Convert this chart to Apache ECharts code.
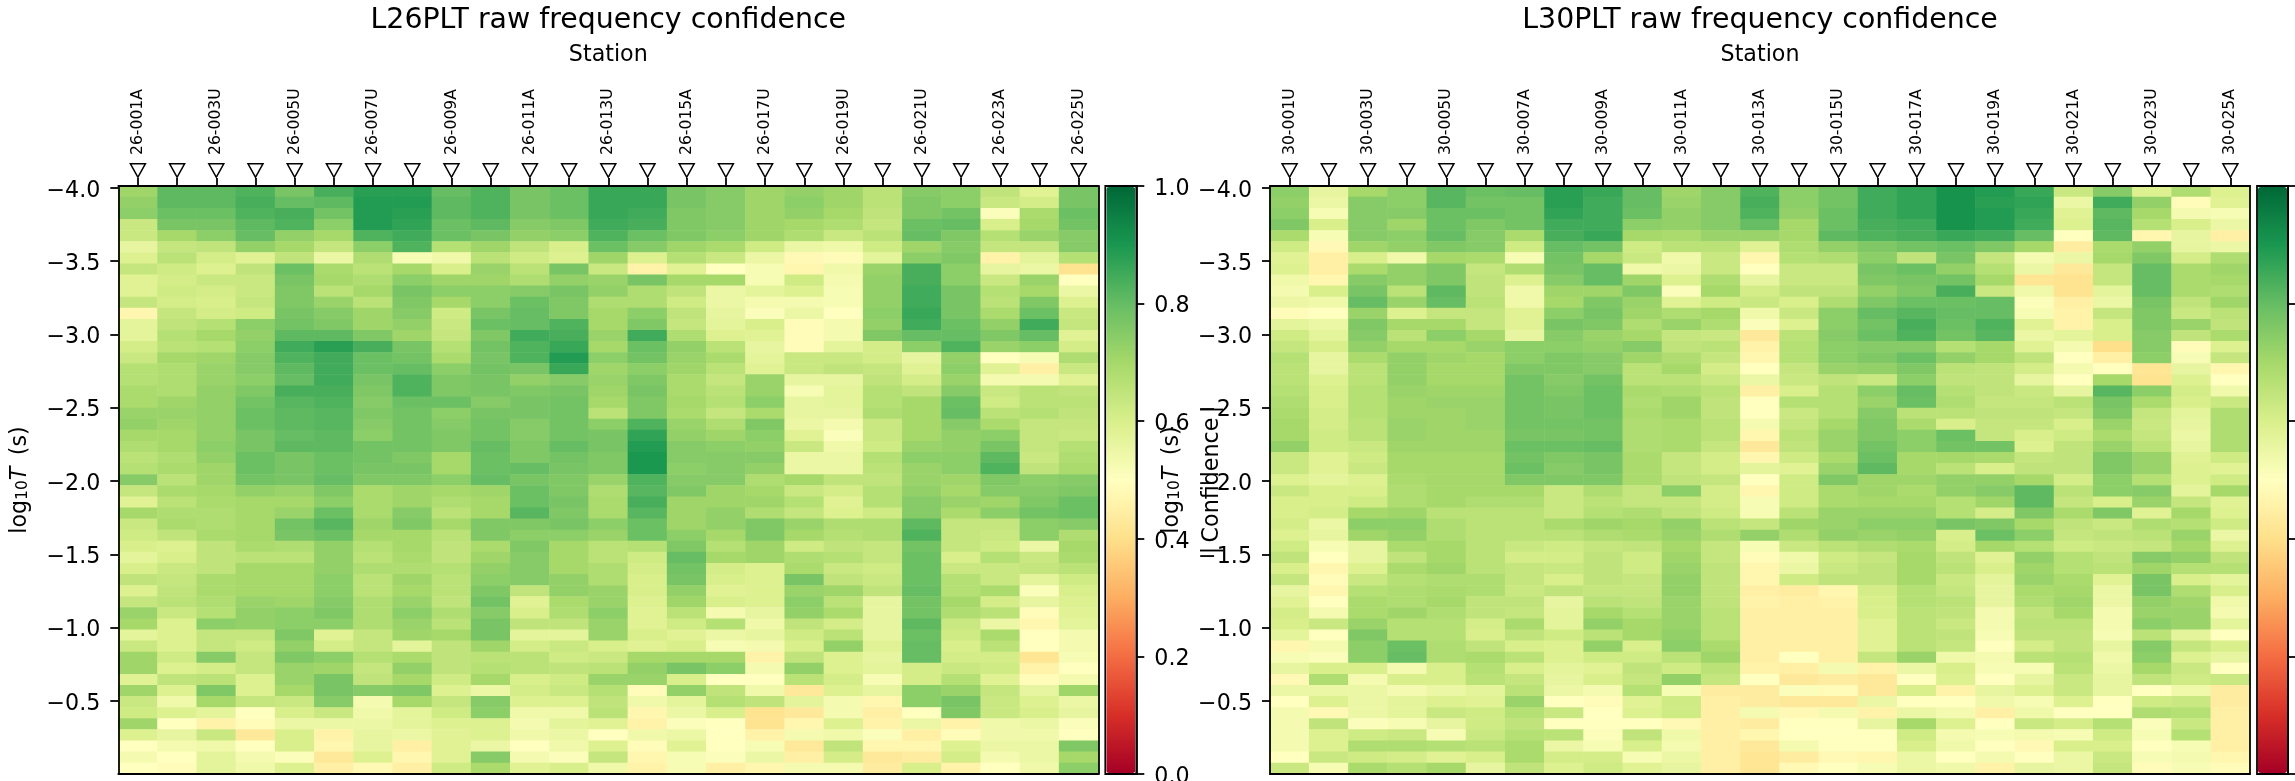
<!DOCTYPE html>
<html><head><meta charset="utf-8">
<style>html,body{margin:0;padding:0;background:#fff;overflow:hidden}#c{width:2295px;height:781px}</style>
<script src="https://cdn.jsdelivr.net/npm/echarts@6/dist/echarts.min.js"></script>
</head><body><div id="c"></div>
<script>
const stations26 = ['26-001A','26-002','26-003U','26-004','26-005U','26-006','26-007U','26-008','26-009A','26-010','26-011A','26-012','26-013U','26-014','26-015A','26-016','26-017U','26-018','26-019U','26-020','26-021U','26-022','26-023A','26-024','26-025U'];
const stations30 = ['30-001U','30-002','30-003U','30-004','30-005U','30-006','30-007A','30-008','30-009A','30-010','30-011A','30-012','30-013A','30-014','30-015U','30-016','30-017A','30-018','30-019A','30-020','30-021A','30-022','30-023U','30-024','30-025A'];
const periodTicks = [-4,-3.5,-3,-2.5,-2,-1.5,-1,-0.5];
const confidenceTicks = [0,0.2,0.4,0.6,0.8,1];
const palette = ['#a50026','#d73027','#f46d43','#fdae61','#fee08b','#ffffbf','#d9ef8b','#a6d96a','#66bd63','#1a9850','#006837'];
// confidence x100, one row per period band (top to bottom), one column per station
const conf26 = [
[71,81,81,83,77,84,88,88,80,83,77,79,86,86,77,75,71,73,71,66,75,74,65,58,77],
[73,81,81,84,80,81,89,89,81,83,77,79,86,86,77,75,71,74,71,66,76,74,63,61,77],
[74,79,79,83,84,78,89,88,81,83,77,79,86,85,76,75,71,73,70,65,76,78,51,69,79],
[63,77,77,81,83,74,89,87,79,81,75,76,85,84,76,75,71,70,68,64,79,80,60,70,78],
[63,70,74,80,73,70,83,85,79,77,73,74,83,79,76,74,71,68,63,66,80,76,67,72,75],
[56,64,65,73,70,64,74,83,67,71,65,60,79,75,71,69,62,55,54,62,71,75,64,64,75],
[59,66,61,58,65,55,68,52,54,66,62,59,71,59,67,63,55,48,49,57,74,76,46,57,67],
[64,62,59,65,79,69,66,70,60,72,66,77,63,46,58,50,52,47,54,72,84,74,56,55,41],
[58,61,63,63,77,70,68,74,71,71,68,73,72,77,70,70,52,62,53,73,84,74,63,72,50],
[58,62,61,63,76,66,70,77,74,74,75,77,73,68,65,55,57,59,52,73,85,77,67,70,55],
[64,61,60,64,76,72,66,76,70,74,79,76,68,68,62,55,53,53,52,73,85,77,66,76,59],
[47,64,61,62,77,75,71,75,62,77,80,76,70,74,65,56,51,55,50,74,86,77,69,79,63],
[57,65,67,74,78,76,71,73,63,79,80,83,70,76,64,57,60,49,53,73,85,79,73,85,64],
[57,67,70,73,81,81,76,71,64,76,85,84,72,85,68,59,58,49,53,76,80,80,76,80,58],
[61,66,67,74,85,88,84,77,67,78,83,86,70,79,73,66,56,49,57,61,74,83,72,74,61],
[63,70,71,75,83,85,79,78,69,77,83,89,74,78,72,69,57,63,63,61,56,73,50,52,68],
[67,68,72,75,81,85,79,80,74,78,77,86,71,74,71,66,58,63,65,64,58,74,58,45,63],
[67,68,72,74,80,85,77,83,76,77,73,75,72,76,69,64,72,56,56,65,61,72,53,53,58],
[69,68,73,76,84,84,76,83,76,77,76,77,71,77,69,66,72,52,57,67,65,75,63,66,65],
[69,71,73,78,82,83,75,79,79,75,77,78,70,76,70,67,74,56,57,67,70,79,62,66,66],
[72,72,73,79,81,82,76,78,74,77,77,78,66,76,69,64,69,56,56,68,70,80,66,67,65],
[73,71,73,79,81,82,75,78,75,78,75,78,74,83,72,68,76,55,53,63,70,75,69,64,64],
[70,70,73,77,80,81,74,78,76,78,75,78,77,87,73,71,74,58,51,63,70,73,74,64,63],
[68,70,74,77,81,81,78,78,76,80,76,80,77,89,75,74,73,63,54,62,72,73,77,64,67],
[66,68,73,79,77,79,78,76,70,79,76,78,76,90,75,75,75,55,55,67,74,74,81,63,68],
[67,69,71,79,77,79,77,77,70,79,80,77,76,90,74,75,73,55,55,66,72,74,83,65,69],
[75,66,71,78,77,80,76,76,74,80,77,76,72,83,75,75,68,70,65,65,72,71,76,74,75],
[64,69,70,73,72,76,69,71,70,71,79,76,68,82,76,71,70,63,61,67,73,70,75,75,76],
[58,66,69,70,70,74,69,71,68,70,79,77,69,84,71,71,71,67,58,67,75,72,71,76,79],
[70,68,68,70,72,79,69,75,66,70,82,76,69,82,71,73,68,64,59,62,75,69,74,78,79],
[63,69,68,70,78,82,71,76,70,76,76,77,74,79,71,73,76,72,68,68,81,64,64,74,75],
[62,65,69,70,77,79,70,70,66,76,74,74,72,79,74,70,76,70,67,68,83,64,63,74,68],
[60,59,65,69,68,73,67,70,65,69,76,70,66,67,76,67,71,62,65,64,78,64,62,55,70],
[57,60,65,66,66,73,66,69,65,71,75,70,66,62,80,70,71,68,67,64,79,60,67,63,69],
[60,63,65,70,70,73,68,68,67,73,75,70,68,61,78,61,59,69,63,62,79,63,63,64,66],
[65,64,69,70,70,74,66,71,66,74,75,73,68,60,77,60,59,77,65,63,79,67,63,57,62],
[59,65,69,70,70,74,66,70,66,76,65,73,72,60,73,58,59,72,71,65,80,67,69,51,60],
[64,66,68,72,71,75,68,72,65,78,58,69,72,59,71,60,59,74,66,56,78,70,61,56,59],
[72,63,67,73,74,76,68,74,68,75,60,68,74,58,66,53,56,73,69,56,78,68,66,49,58],
[70,59,74,73,74,74,68,72,66,77,65,65,72,58,62,67,54,65,61,56,81,63,55,47,57],
[57,59,64,64,76,58,64,71,70,77,57,57,72,60,58,55,56,62,66,56,79,62,69,50,53],
[63,59,64,62,73,61,64,57,65,71,61,63,60,58,60,52,53,60,73,58,80,60,66,50,53],
[71,62,75,64,76,74,67,69,65,66,66,62,63,70,70,70,46,65,59,56,80,61,61,42,52],
[71,59,61,64,72,71,64,73,65,67,66,65,66,73,77,74,53,73,59,57,61,63,62,46,50],
[58,65,66,59,72,77,65,70,62,70,60,62,72,72,60,50,50,66,61,52,61,67,58,49,53],
[71,59,76,59,70,77,75,76,59,55,61,63,67,49,73,65,54,43,59,56,74,72,64,56,71],
[63,54,70,64,63,75,53,70,64,75,59,59,65,54,57,67,65,57,53,47,74,77,63,59,55],
[62,59,57,50,60,63,54,57,62,74,54,54,66,47,55,60,41,43,53,45,50,76,63,60,56],
[71,50,46,49,55,55,55,57,59,59,53,57,58,46,51,50,41,47,59,46,55,46,54,55,51],
[59,56,63,43,60,46,56,55,58,59,54,55,50,54,55,50,46,53,54,51,45,49,54,54,50],
[50,53,54,50,60,47,56,45,58,55,50,54,59,49,58,50,52,43,65,47,47,59,55,55,76],
[53,50,57,53,51,43,59,47,58,75,53,51,64,47,52,51,55,45,61,43,44,61,53,55,70],
[50,49,57,54,59,45,48,45,62,69,58,60,54,46,52,45,47,53,53,44,60,46,50,54,74]
];
const conf30 = [
[74,56,70,74,82,79,80,88,86,80,71,75,83,74,78,85,87,91,89,86,63,75,59,68,59],
[73,55,75,74,82,78,78,88,85,80,72,75,84,74,78,85,87,91,88,87,55,85,73,49,58],
[74,52,75,75,79,79,78,87,85,79,73,75,83,73,79,85,87,91,89,86,58,81,70,53,52],
[76,60,75,71,79,76,78,85,85,74,73,75,80,70,79,84,85,91,89,85,59,82,67,60,55],
[69,52,75,74,80,75,69,84,86,70,69,72,72,70,81,83,84,86,85,80,50,81,47,56,45],
[62,48,71,73,76,75,62,80,78,62,66,66,58,68,73,76,78,79,76,70,44,69,73,56,55],
[58,45,60,54,70,69,52,78,70,63,54,63,47,67,68,74,65,77,64,53,55,70,76,61,68],
[59,45,69,73,76,64,68,77,80,54,55,63,50,63,63,77,79,73,67,55,43,64,80,69,71],
[54,47,75,73,76,65,59,75,80,71,59,68,56,63,63,76,77,78,70,42,41,64,80,69,70],
[53,60,77,66,81,65,54,71,71,76,51,70,61,65,65,73,76,84,63,54,41,57,80,69,68],
[55,54,80,72,80,66,54,70,76,72,58,62,63,60,68,76,79,79,80,51,45,55,77,65,71],
[49,50,72,59,64,64,58,74,77,71,68,70,54,63,74,80,82,80,80,52,46,64,76,63,66],
[57,55,76,70,70,64,58,77,76,68,72,68,51,59,74,78,84,79,83,58,46,60,76,72,65],
[62,57,75,66,74,70,56,75,72,70,64,63,43,66,75,79,83,78,82,55,57,60,75,65,69],
[64,60,73,70,70,72,74,74,73,75,65,66,46,67,74,75,75,67,70,58,53,40,75,49,59],
[67,56,69,73,71,70,74,76,75,71,68,64,47,67,74,76,79,73,70,65,50,45,74,52,64],
[66,56,66,73,70,70,76,76,75,66,70,61,50,64,72,73,76,66,65,61,53,50,42,56,47],
[66,59,66,73,70,70,78,75,78,66,66,63,55,63,65,63,74,65,65,56,50,70,41,59,50],
[67,60,67,72,71,71,78,76,79,69,68,66,45,60,67,74,80,67,65,63,56,82,74,61,54],
[68,60,67,71,72,72,78,77,79,68,71,65,50,67,67,72,79,68,64,64,66,77,69,60,63],
[69,61,67,71,71,72,78,77,79,69,71,65,50,63,67,75,66,66,65,65,64,76,64,57,68],
[70,61,66,72,71,72,78,78,78,68,69,66,53,64,70,76,69,60,64,64,60,72,63,56,68],
[70,62,66,72,71,71,77,77,78,68,69,66,47,66,72,76,74,79,64,60,62,69,64,55,68],
[73,62,63,71,71,71,79,79,80,68,69,64,43,65,72,78,74,78,78,59,65,72,66,56,68],
[63,58,62,70,70,70,78,76,77,69,64,61,47,62,69,79,70,70,69,64,65,76,72,58,62],
[63,58,63,70,70,70,79,75,77,69,64,61,57,58,72,81,70,66,60,65,65,76,72,59,58],
[59,57,59,69,70,70,76,76,76,69,65,64,50,62,76,71,71,73,73,70,61,74,67,59,62],
[63,60,60,68,70,70,70,63,68,64,74,61,47,62,69,71,69,73,75,81,66,74,75,57,70],
[60,60,62,68,70,68,68,63,66,64,64,61,52,62,69,70,70,67,71,81,64,60,72,64,58],
[60,61,70,71,66,66,66,63,67,68,65,62,52,66,72,72,72,67,61,76,69,76,58,70,59],
[61,55,74,74,68,66,66,69,71,70,73,66,64,71,72,74,74,77,76,70,65,63,68,67,62],
[59,56,71,73,68,66,66,66,68,69,72,68,73,68,73,72,73,60,79,74,64,65,66,72,55],
[62,52,56,69,70,66,63,62,64,65,70,64,52,63,66,68,69,61,70,67,62,63,64,70,59],
[65,50,56,65,70,66,61,61,65,62,71,64,49,54,62,64,70,65,58,73,67,65,75,73,65],
[60,47,59,69,71,66,64,63,65,62,72,65,47,55,63,65,70,66,60,71,67,66,71,67,67],
[64,49,63,67,68,68,64,60,65,64,73,65,47,62,65,65,70,63,57,72,69,58,77,60,57],
[56,47,67,68,69,68,63,65,64,64,73,65,45,44,47,61,67,64,56,69,70,55,77,68,60],
[58,50,69,68,70,65,65,56,66,65,72,65,46,45,46,60,67,66,56,68,71,55,73,71,54],
[61,53,69,71,68,65,64,57,70,67,72,66,45,45,45,60,66,65,53,65,70,53,72,72,53],
[60,63,72,67,67,61,69,57,73,70,72,66,45,45,45,58,66,63,53,66,66,53,74,72,57],
[57,50,76,67,67,60,65,62,66,70,73,66,45,45,45,58,66,65,52,65,65,52,66,57,50],
[47,53,74,79,68,65,60,59,73,60,74,69,45,45,45,58,66,64,50,61,65,56,75,64,60],
[52,51,74,80,68,69,66,59,62,62,66,71,45,50,45,64,72,54,53,66,67,54,74,59,56],
[56,60,60,53,60,67,60,57,58,65,62,66,46,45,53,46,55,60,52,52,66,55,70,63,50],
[48,68,53,60,60,66,64,56,60,64,73,64,50,43,44,43,50,59,50,56,63,56,65,62,63],
[55,55,55,53,55,57,66,55,53,67,52,44,44,51,49,43,60,46,56,59,63,56,50,54,44],
[50,59,55,57,59,58,72,50,49,58,62,45,44,43,43,55,50,50,54,52,59,50,62,63,44],
[53,48,55,57,63,62,67,63,50,59,62,45,53,48,53,46,55,53,45,54,50,50,68,67,45],
[53,65,51,52,56,62,65,50,50,50,48,45,44,50,50,56,70,59,50,63,61,67,51,63,45],
[53,59,62,63,52,63,67,66,51,65,54,45,47,50,50,50,62,53,52,53,52,62,52,67,45],
[53,59,68,68,67,66,69,55,52,60,53,45,43,53,50,50,60,54,50,48,60,60,50,52,45],
[50,63,62,61,58,60,69,61,61,52,55,45,42,44,48,47,55,50,53,50,55,63,52,53,47],
[63,52,69,67,70,56,65,59,62,58,56,45,42,48,50,52,55,54,46,56,55,64,49,52,49]
];

const FONT = 'DejaVu Sans', BK = '#000', LW = 1.78;
const panels = [
  {title:'L26PLT raw frequency confidence', stations:stations26, conf:conf26, left:118.3, showBarText:true},
  {title:'L30PLT raw frequency confidence', stations:stations30, conf:conf30, left:1270, showBarText:false}
];
const W = 980, H = 588, TOP = 186;
const opt = {animation:false, backgroundColor:'#fff', textStyle:{fontFamily:FONT},
  title:[], grid:[], xAxis:[], yAxis:[], series:[], visualMap:[]};
const line = {show:true, lineStyle:{color:BK, width:LW}};
const logName = '{a|log}{s|10}{i|T}{a|\u2009 (s)}';
panels.forEach((p,k)=>{
  const rows = p.conf.map((_,i)=>String(i));
  const mainGrid = opt.grid.length;
  const xTop = opt.xAxis.length, yVal = opt.yAxis.length;
  opt.title.push({text:p.title, left:p.left+W/2, top:7, padding:0, textAlign:'center',
    textStyle:{fontFamily:FONT,fontWeight:'normal',fontSize:28.4,color:BK}});
  opt.grid.push({left:p.left, top:TOP, width:W, height:H, containLabel:false, show:false, outerBoundsMode:'none'});
  // top axis: stations
  opt.xAxis.push({type:'category', gridIndex:mainGrid, position:'top', data:p.stations, z:6,
    axisLine:line, axisTick:{show:true, alignWithLabel:true, interval:0, length:8, lineStyle:{color:BK,width:LW}},
    axisLabel:{show:true, interval:1, rotate:-90, margin:31, fontSize:15.6, color:BK, fontFamily:FONT},
    splitLine:{show:false},
    name:'Station', nameLocation:'middle', nameGap:120, nameTextStyle:{fontSize:22.2,color:BK,fontFamily:FONT}});
  // bottom axis: spine only
  opt.xAxis.push({type:'category', gridIndex:mainGrid, position:'bottom', data:p.stations, z:6,
    axisLine:line, axisTick:{show:false}, axisLabel:{show:false}, splitLine:{show:false}});
  // left value axis: log period ticks
  opt.yAxis.push({type:'value', gridIndex:mainGrid, position:'left', inverse:true, min:-4.012, max:-0.002, z:6,
    axisLine:line, splitLine:{show:false},
    axisTick:{show:true, length:8, customValues:periodTicks, lineStyle:{color:BK,width:LW}},
    axisLabel:{show:true, margin:18, fontSize:22.2, color:BK, fontFamily:FONT, customValues:periodTicks, verticalAlign:'top', lineHeight:6,
      formatter:v=>(v<0?'\u2212':'')+Math.abs(v).toFixed(1)},
    name:logName, nameLocation:'middle', nameGap:87, nameRotate:90,
    nameTextStyle:{fontSize:22.2,color:BK,fontFamily:FONT,
      rich:{a:{fontSize:22.2,fontFamily:FONT,color:BK},
            s:{fontSize:15.5,fontFamily:FONT,color:BK,verticalAlign:'bottom',lineHeight:14},
            i:{fontSize:22.2,fontFamily:FONT,fontStyle:'italic',color:BK}}}});
  // right category axis: rows + right spine
  opt.yAxis.push({type:'category', gridIndex:mainGrid, position:'right', inverse:true, data:rows, z:6,
    axisLine:line, axisTick:{show:false}, axisLabel:{show:false}, splitLine:{show:false}});
  const cells = [];
  p.conf.forEach((r,i)=>r.forEach((v,j)=>cells.push([j,i,v/100])));
  const heatIdx = opt.series.length;
  opt.series.push({type:'heatmap', xAxisIndex:xTop, yAxisIndex:yVal+1, data:cells, progressive:0, z:2,
    emphasis:{disabled:true}, itemStyle:{borderWidth:0}});
  opt.series.push({type:'scatter', xAxisIndex:xTop, yAxisIndex:yVal, clip:false, z:3,
    data:p.stations.map(s=>[s,-4.012]), symbol:'triangle', symbolSize:[15,13.5], symbolRotate:180, symbolOffset:[0,-15.5],
    itemStyle:{color:'#fff',borderColor:BK,borderWidth:1.5,opacity:1}, emphasis:{disabled:true}, silent:true});
  // colour bar
  const barLeft = p.left+W+7, barGrid = opt.grid.length;
  opt.grid.push({left:barLeft, top:TOP, width:31, height:H, show:true, borderColor:BK, borderWidth:LW, backgroundColor:'transparent', outerBoundsMode:'none'});
  opt.xAxis.push({type:'category', gridIndex:barGrid, show:false, data:['c']});
  opt.yAxis.push({type:'value', gridIndex:barGrid, position:'right', min:0, max:1, z:6,
    axisLine:line, splitLine:{show:false},
    axisTick:{show:true, length:8, customValues:confidenceTicks, lineStyle:{color:BK,width:LW}},
    axisLabel:{show:p.showBarText, margin:18, fontSize:22.2, color:BK, fontFamily:FONT, customValues:confidenceTicks, verticalAlign:'top', lineHeight:6, formatter:v=>v.toFixed(1)},
    name:p.showBarText?'|\u2009Confidence\u2009|':'', nameLocation:'middle', nameGap:65, nameRotate:90,
    nameTextStyle:{fontSize:22.2,color:BK,fontFamily:FONT}});
  opt.visualMap.push({type:'continuous', seriesIndex:heatIdx, dimension:2, min:0, max:1, calculable:false, hoverLink:false,
    left:barLeft+1, top:TOP+1, itemWidth:29, itemHeight:H-2, padding:0, text:null, showLabel:false,
    inRange:{color:palette}, textStyle:{fontSize:0}});
});
const chart = echarts.init(document.getElementById('c'), null, {renderer:'canvas', width:2295, height:781, devicePixelRatio:1});
chart.setOption(opt);
</script></body></html>
